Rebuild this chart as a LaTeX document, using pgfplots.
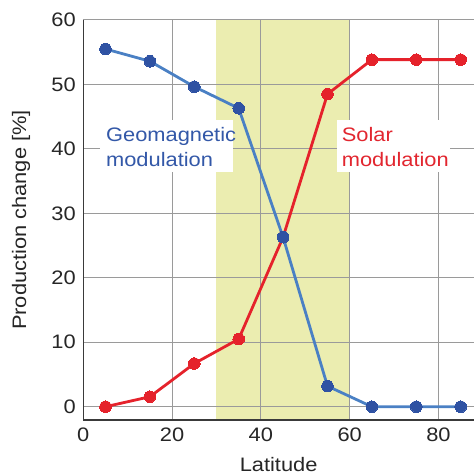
\documentclass[border=0pt]{standalone}
\usepackage{fontspec}
\setmainfont{Liberation Sans}[FakeStretch=1.12]
\usepackage{pgfplots}
\pgfplotsset{compat=1.18}
\definecolor{geoline}{HTML}{4A80C4}
\definecolor{geomark}{HTML}{2F52A3}
\definecolor{geotext}{HTML}{3358A8}
\definecolor{solline}{HTML}{E5222B}
\definecolor{soltext}{HTML}{E2262F}
\definecolor{shade}{HTML}{EBEDB0}
\definecolor{gridc}{HTML}{9A9A9A}
\definecolor{axisc}{HTML}{3A3A3A}
\newcommand{\fs}{\fontsize{19.5pt}{25pt}\selectfont}
\begin{document}
\begin{tikzpicture}
\begin{axis}[name=ax, scale only axis, width=390.7pt, height=400pt,
  xmin=0, xmax=88, ymin=-2.06, ymax=60,
  axis x line*=bottom, axis y line*=left,
  axis line style={draw=axisc, line width=1.3pt, -},
  xtick={0,20,40,60,80}, ytick={0,10,20,30,40,50,60},
  grid=major, major grid style={draw=gridc, line width=1pt},
  major tick length=0pt,
  set layers,
  /pgf/number format/assume math mode=true,
  tick label style={font=\fs, text=black!85},
  xticklabel style={yshift=-4pt}, yticklabel style={xshift=-4pt},
  xlabel={Latitude}, ylabel={Production change [\%]},
  xlabel style={at={(axis description cs:0.5,-0.129)}, anchor=base, font=\fs, text=black!85},
  ylabel style={at={(axis description cs:-0.159,0.5)}, anchor=center, font=\fs, text=black!85},
  clip=false]
\addplot[on layer=axis background, fill=shade, draw=none] coordinates {(30,-2.06) (30,60) (60,60) (60,-2.06)} -- cycle;
\addplot[solline, line width=2.8pt, mark=*, mark size=5.8pt, mark options={fill=solline, draw=solline, line width=0pt}]
  coordinates {(5,0) (15,1.55) (25,6.7) (35,10.5) (45,26.3) (55,48.5) (65,53.85) (75,53.85) (85,53.85)};
\addplot[geoline, line width=2.8pt, mark=*, mark size=5.8pt, mark options={fill=geomark, draw=geomark, line width=0pt}]
  coordinates {(5,55.5) (15,53.6) (25,49.65) (35,46.3) (45,26.3) (55,3.2) (65,0) (75,0) (85,0)};
\fill[white] (axis cs:3.76,44.5) rectangle (axis cs:33.7,36.4);
\fill[white] (axis cs:57.07,44.5) rectangle (axis cs:82.7,36.4);
\node[anchor=base west, inner sep=0pt, font=\fs, text=geotext] at (axis cs:5.1,41.1) {Geomagnetic};
\node[anchor=base west, inner sep=0pt, font=\fs, text=geotext] at (axis cs:5.1,37.24) {modulation};
\node[anchor=base west, inner sep=0pt, font=\fs, text=soltext] at (axis cs:58.2,41.1) {Solar};
\node[anchor=base west, inner sep=0pt, font=\fs, text=soltext] at (axis cs:58.2,37.24) {modulation};
\end{axis}
\pgfresetboundingbox
\path[use as bounding box] (ax.south west) ++(-83.3pt,-56pt) rectangle ++(474pt,476pt);
\end{tikzpicture}
\end{document}
